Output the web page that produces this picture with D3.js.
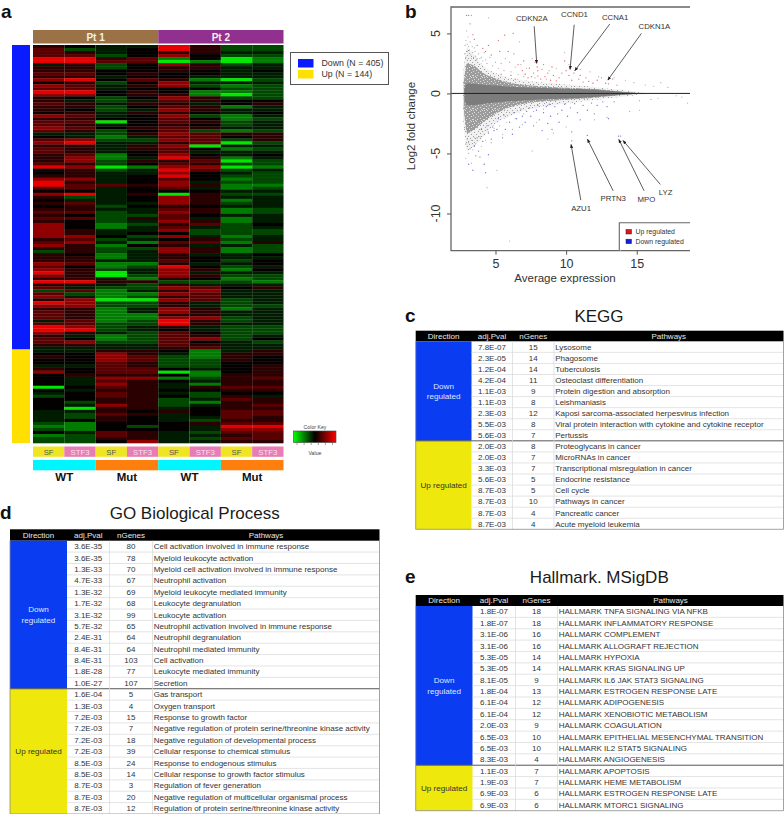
<!DOCTYPE html>
<html>
<head>
<meta charset="utf-8">
<title>Expression panels</title>
<script src="https://cdn.jsdelivr.net/npm/d3@7"></script>
<style>
html,body{margin:0;padding:0;background:#fff;}
svg{display:block;font-family:"Liberation Sans",Arial,sans-serif;}
</style>
</head>
<body>
<svg id="fig" width="784" height="814"></svg>
<script>
// ---- Panel a: heatmap values, one row per gene band, eight sample columns ----
const heatRows = [
[1,0,-1,-1,4,1,-2,-2],[2,-2,-1,0,4,1,-2,-2],[2,1,-1,0,1,1,-1,-1],[2,2,-2,0,3,0,-2,-2],[4,4,1,2,-3,0,-4,-3],[4,4,2,2,-4,-3,-4,-3],
[-1,1,-2,0,3,1,-2,-1],[1,1,-2,0,1,1,-1,-1],[1,1,0,0,1,0,-1,0],[2,2,0,1,0,0,-1,-1],[1,1,-1,0,0,-1,-1,-1],[3,4,0,2,1,-3,-4,-2],
[0,1,-2,0,3,-1,-1,-1],[3,2,-1,1,3,-2,-3,-2],[2,2,-1,0,0,0,-2,-2],[4,4,0,1,0,-3,-3,-2],[3,3,0,1,1,-3,-4,-2],[1,0,-2,0,3,1,-2,-2],
[1,-1,-2,-1,2,1,0,0],[2,1,-1,1,1,-1,0,1],[1,1,-2,0,2,1,-3,-1],[1,0,-2,-1,3,1,-1,-1],[0,1,-1,1,1,0,-1,0],[3,2,-1,0,3,-2,-3,-1],
[1,1,0,0,2,0,-3,-2],[2,2,-4,0,2,1,-2,-1],[2,1,-1,0,1,0,-2,-1],[3,2,0,1,2,1,-1,-1],[2,1,-2,0,2,-2,-3,-2],[-1,-1,-2,1,3,2,1,1],
[0,-1,-3,-1,2,2,0,1],[2,3,-2,-2,3,2,-2,1],[3,4,-1,-1,1,2,-4,-2],
[1,1,-1,1,3,-4,-1,-1],[2,1,-1,1,2,0,-3,-2],[2,1,-1,0,2,-1,-1,-1],[1,2,-3,0,3,0,-1,0],[1,3,-3,-1,4,1,-3,-1],[1,3,-2,1,1,2,-4,-2],
[2,1,-2,0,2,1,-2,-2],[4,3,-4,-3,3,3,-4,-3],[0,1,-2,-1,4,2,-2,-1],[0,1,-1,-1,3,0,-1,-2],[1,1,-1,0,4,0,-2,-2],[3,3,-1,0,2,0,-3,-2],
[4,1,-1,0,3,-1,-2,-2],[4,2,2,1,3,1,-3,-3],[2,2,-1,0,2,-1,-3,-2],[0,0,-1,0,0,0,-1,-1],[3,4,-1,1,-4,1,-2,-2],[1,-2,-1,0,3,1,-1,-1],
[0,-1,-1,0,3,1,-3,-1],[1,2,-1,-1,3,1,-2,-1],[0,1,-2,0,1,0,-1,-1],[1,1,-1,-1,2,1,-3,-2],[2,2,-2,-1,3,1,-3,-2],[1,0,-2,-2,2,0,-1,-1],
[2,2,-2,1,2,-1,-3,-1],[1,0,-2,-1,3,1,-3,-1],[3,0,-3,-2,1,2,-2,0],[3,0,-3,-1,2,-1,-2,-1],[3,1,-1,-1,3,-2,-2,-2],[3,1,-1,0,0,-2,-2,-2],
[3,3,0,-2,3,-1,-3,-1],[1,2,-2,-1,0,1,-2,-1],[2,3,-1,-3,2,2,-3,1],
[3,1,-3,0,1,-1,-1,-2],[1,1,-2,-2,3,1,-3,-2],[-2,1,-2,-1,3,1,-3,-2],[1,0,-3,-1,1,-1,-1,0],[1,1,-3,-1,1,0,-1,-1],[1,1,-1,-1,2,0,-2,0],
[3,2,-3,-3,1,-1,-1,0],[2,0,-3,-2,4,0,-2,-1],[3,1,-2,-1,3,1,-3,0],[4,1,-4,-1,3,-1,-1,-1],[3,1,-4,-2,3,1,-2,-2],[1,1,-1,-3,1,0,-3,-2],
[4,4,1,1,-2,-2,-2,-3],[1,1,-1,-2,1,-1,-1,-1],[2,-1,-2,-2,3,2,0,1],[-2,2,-3,-1,1,3,-1,-1],[2,-2,-3,-3,3,2,-1,-1],[3,-1,-3,-2,1,2,-1,-1],
[1,3,-4,-4,3,2,-2,-1],[4,3,-2,-2,1,-1,-2,-1],[3,3,-2,-2,1,-1,-2,-2],[1,1,-3,-1,3,1,-3,-1],[2,1,-3,-1,3,1,-1,-1],[2,1,-3,-3,1,1,-1,-1],
[2,1,-3,-3,3,3,-2,-1],[-1,2,-3,-2,4,1,-2,-1],[2,2,-2,-2,4,1,-1,-1],[4,3,-2,-1,1,-1,-2,-2],[4,4,-2,-1,0,-1,-2,-2],[3,1,-1,-2,2,0,-2,-2],
[1,-1,-3,-2,2,1,-2,-1],[2,0,-3,-2,2,3,-2,0],[2,3,-2,-2,2,0,-1,-2],
[1,1,-1,-1,2,1,-1,-1],[-1,-1,-1,-1,1,2,-1,-1],[-1,-1,1,1,0,-3,-1,1],[0,0,3,1,-1,-3,1,1],[1,0,3,2,-2,-3,1,0],[0,0,3,2,-2,-2,1,0],
[0,0,2,1,-2,-2,0,0],[-1,-1,2,1,-2,-2,0,1],[1,0,2,2,0,-1,0,1],[3,0,2,2,-4,-3,0,1],[0,1,1,1,0,-3,1,1],[0,-1,3,3,-3,-2,1,2],
[0,-1,2,1,0,-1,1,1],[0,-1,3,1,-1,-3,1,1],[-4,0,2,1,-1,1,2,2],[0,-1,1,1,0,0,1,1],[-1,0,2,1,-1,-2,0,0],[-2,0,2,1,0,-2,1,-1],
[0,0,1,1,-2,-1,2,1],[0,-2,1,1,-2,-3,1,1],[0,-1,3,1,-2,-1,1,2],[0,-4,1,1,-1,0,1,1],[-1,-1,1,0,1,0,2,2],[-1,-2,2,1,-1,0,2,2],
[-1,-2,1,0,-1,-1,2,1],[-1,0,1,0,-1,-2,1,1],[-2,-3,0,0,0,1,2,2],[-3,-3,0,-2,0,-1,4,4],[-2,-3,0,0,0,-1,3,3],[0,-1,2,1,-1,-2,2,2],
[-3,-2,2,1,-1,-1,1,2],[-2,-2,1,1,-1,-2,2,2],[-2,-2,0,3,-1,-1,1,1]
];
const heatLevels = [-4, -3, -2, -1, 0, 1, 2, 3, 4];
const heatColours = ["#00e800", "#007c00", "#004800", "#001c00", "#040000", "#2a0000", "#5a0000", "#900000", "#e80000"];
const patients = ["Pt 1", "Pt 2"];
const mediaLabels = ["SF", "STF3", "SF", "STF3", "SF", "STF3", "SF", "STF3"];
const genotypes = ["WT", "Mut", "WT", "Mut"];
const directionCounts = [["Down", 405], ["Up", 144]];
const directionBands = [101, 31];

// ---- Panel b: MA plot envelopes and individually read points ----
const outerX  = [2.7, 3, 3.5, 4, 4.5, 5, 6, 7, 8, 9, 10, 11, 12, 13, 14, 15, 16];
const outerUp = [1.5, 3.8, 3.2, 2.5, 2, 1.7, 1.3, 1.1, .95, .82, .75, .66, .54, .4, .3, .14, 0];
const outerDn = [-2, -4.8, -4.4, -3.8, -3.1, -2.5, -1.9, -1.45, -1.2, -1, -.85, -.7, -.55, -.4, -.28, -.15, 0];
const innerX  = [2.75, 3, 3.5, 4, 5, 6, 7, 8, 9, 10, 11, 12, 13, 14, 15];
const innerUp = [.8, 2.5, 2.3, 1.8, 1.25, .9, .72, .62, .54, .48, .43, .36, .26, .14, .04];
const innerDn = [-1.2, -3.3, -3, -2.5, -1.7, -1.15, -.85, -.7, -.6, -.52, -.45, -.35, -.24, -.14, -.04];
const coreX   = [2.8, 3, 4, 5, 6, 7, 8, 9, 10, 11, 12, 13, 14, 15];
const coreUp  = [.4, .85, .74, .66, .58, .52, .48, .44, .4, .36, .31, .22, .12, .03];
const coreDn  = [-.5, -1, -.88, -.76, -.66, -.58, -.52, -.47, -.42, -.38, -.3, -.2, -.11, -.03];
const sparseTile = [[1,1],[4,0],[6,2],[10,1],[12,3],[3,4],[8,4],[0,6],[5,6],[10,6],[2,8],[7,8],[12,8],[4,10],[9,10],[0,11],[6,12],[11,12]];
const denseTile = [[0,0],[3,0],[7,1],[9,0],[1,2],[5,2],[10,3],[3,4],[7,4],[0,5],[5,6],[9,6],[2,7],[7,8],[0,9],[4,9],[10,9],[2,10],[8,10]];

const greyPoints = [
[2.9,3],[3,3.5],[2.85,4],[3.2,4.3],[3.4,3.4],[2.95,5.2],[3.05,4.7],[3.6,3.1],[3.8,3.3],[3.3,2.9],[3.5,3.8],[2.8,3.3],[3.1,3.9],[3.7,2.9],
[4,3],[4.3,2.8],[4.6,3],[4.2,3.4],[5,2.6],[5.4,2.5],[5.7,2.9],[6,2.6],[6.4,2.2],[6.8,2.4],[7.2,2.1],[7.6,2.9],[8.3,2],[8.8,1.9],[9.3,2.1],
[9.9,3.4],[10.2,2.4],[11,2],[11.7,1.8],[12.3,1.4],[13.4,1.3],[14.2,1.1],[14.8,.9],[15.6,.7],[16.2,.6],[16.7,.9],[17.2,.5],[17.8,-.2],[18.2,-.3],
[18.6,-.8],[16,-.5],[15.2,-.6],[16.5,-.4],[4.5,6.3],[6.7,4.3],[3.3,6.5],[2.8,-3],[2.9,-4.2],[3,-3.8],[3.1,-5],[2.9,-5.4],[3.3,-5.8],[3.4,-4.7],
[3.6,-4.2],[4,-4.4],[4.3,-3.9],[4.7,-4.1],[5.1,-6.4],[4.4,-7.85],[6,-12.3],[7.6,-4.8],[8.7,-3.8],[9.1,-3.3],[10,-2.8],[12,-2.2],[12.9,-2],
[14.5,-1.5],[15.2,-1.4],[5.5,-3.4],[6.2,-3],[6.9,-2.6],[7.9,-2.4],
[2.9,4.4],[3,4.1],[3.15,3.6],[3.25,3.2],[3.35,3.9],[3.45,3],[3.55,3.5],[3.65,2.8],[3.9,2.9],[4.1,2.7],[4.4,2.5],[4.8,2.3],[5.2,2.1],[5.6,1.9],[6.1,1.8],
[6.6,1.6],[7,1.4],[7.8,1.3],[8.6,1.2],[3,-4.4],[3.1,-4.1],[3.2,-4.6],[3.3,-3.9],[3.5,-3.7],[3.7,-3.9],[3.9,-3.6],[4.2,-3.4],[4.5,-3.2],[4.9,-2.9],[5.3,-2.7],
[5.8,-2.4],[6.4,-2.1],[7,-1.7],[7.7,-1.5],[8.4,-1.3]
];
const upPoints = [
[2.95,6.5],[3.1,6.5],[3.2,5.8],[3.5,4.5],[3.7,4],[3.4,4.9],[4.1,3.75],[4.5,4],[4.3,3.5],[5.2,4.4],[5.3,3.5],[5.65,4.85],[5.9,3.5],[6.25,5],[6.3,3.3],
[4.7,3.2],[6.6,2.4],[6.9,1.9],[7.1,1.6],[7.3,1.3],[7.4,2.1],[7.55,1.4],[7.7,1.7],[7.8,2.6],[7.95,2.2],[8,1.45],[8,1.9],[8.2,1.2],[8.5,1.4],
[8.7,1.7],[8.9,1.1],[9.1,1.5],[9.3,1.05],[9.5,1.3],[9.7,1.7],[10,1.9],[10.2,1.5],[10.4,1.1],[10.55,1.7],[10.75,2.1],[10.9,1.2],[11,1.5],[11.2,.95],
[11.4,1.3],[11.6,1],[11.9,.85],[12.2,1.1],[12.5,1.3],[12.8,.85],[13,.8],[13.3,1.2],[13.6,.7],[6.1,1.5],[6.4,1.2],[5.4,1.6],[7,2.7],[8.4,2.4],[9,2.2],[9.9,2.7]
];
const downPoints = [
[10.4,-3.95],[11.5,-3.5],[13.7,-3.55],[13.85,-3.55],[3.6,-5.2],[3.8,-4.8],[3.1,-5.9],[3.4,-6.4],[3.9,-5.3],[4.2,-5.9],[4.3,-6.6],[4.5,-5.1],[3.7,-3.7],
[4.1,-4],[4.5,-3.3],[4.4,-2.7],[4.8,-2.8],[4.9,-3.1],[5.1,-3],[5.5,-3.7],[5.7,-3],[6,-2.4],[6.2,-3.4],[6.5,-2.1],[6.7,-2.8],[6.9,-1.9],[7.1,-2.4],
[7.2,-1.5],[7.5,-1.9],[7.7,-2.7],[7.9,-1.4],[8.1,-2.2],[8.3,-3.1],[8.4,-1.6],[8.6,-1.1],[8.7,-2.5],[8.9,-1.9],[9.2,-1.1],[9.4,-1.7],[9.5,-2.4],
[9.7,-1.4],[9.9,-.9],[10.1,-1.9],[10.3,-1.2],[10.6,-.85],[10.8,-1.6],[11,-2.2],[11.2,-1],[11.5,-1.4],[11.8,-.8],[12,-1.7],[12.2,-1],[12.6,-.7],
[12.9,-1.1],[13,-2.1],[13.4,-.7],[5.2,-2.1],[5.6,-1.8],[6.3,-1.6],[6.8,-1.3],[7.4,-1.2],[8,-1],[8.8,-.9],[4.7,-3.8],[4,-3],[3.5,-4.4],[9,-3],[10.4,-3.2]
];
const geneNotes = [
  {gene:"CDKN2A", tx:7.57,  ty:6.25,  x1:7.74,  y1:5.6,   x2:7.92,  y2:2.5},
  {gene:"CCND1",  tx:10.59, ty:6.56,  x1:10.57, y1:5.72,  x2:10.28, y2:2},
  {gene:"CCNA1",  tx:13.47, ty:6.31,  x1:13.09, y1:5.78,  x2:10.61, y2:1.89},
  {gene:"CDKN1A", tx:16.25, ty:5.58,  x1:15.33, y1:5,     x2:12.95, y2:1.11},
  {gene:"AZU1",   tx:11.06, ty:-9.56, x1:11.04, y1:-8.89, x2:10.35, y2:-4.25},
  {gene:"PRTN3",  tx:13.33, ty:-8.75, x1:13.33, y1:-8.11, x2:11.51, y2:-3.81},
  {gene:"MPO",    tx:15.68, ty:-8.78, x1:15.52, y1:-8.11, x2:13.73, y2:-3.83},
  {gene:"LYZ",    tx:17.05, ty:-8.22, x1:16.67, y1:-7.58, x2:14.03, y2:-3.92}
];
const xTicksMA = [5, 10, 15];
const yTicksMA = [5, 0, -5, -10];

// ---- Panels c, d, e: enrichment tables ----
const tableColumns = ["Direction", "adj.Pval", "nGenes", "Pathways"];
const keggRows = [
["7.8E-07",15,"Lysosome"],["2.3E-05",14,"Phagosome"],["1.2E-04",14,"Tuberculosis"],["4.2E-04",11,"Osteoclast differentiation"],
["1.1E-03",9,"Protein digestion and absorption"],["1.1E-03",8,"Leishmaniasis"],["2.3E-03",12,"Kaposi sarcoma-associated herpesvirus infection"],
["5.5E-03",8,"Viral protein interaction with cytokine and cytokine receptor"],["5.6E-03",7,"Pertussis"],
["2.0E-03",8,"Proteoglycans in cancer"],["2.0E-03",7,"MicroRNAs in cancer"],["3.3E-03",7,"Transcriptional misregulation in cancer"],
["5.6E-03",5,"Endocrine resistance"],["8.7E-03",5,"Cell cycle"],["8.7E-03",10,"Pathways in cancer"],["8.7E-03",4,"Pancreatic cancer"],["8.7E-03",4,"Acute myeloid leukemia"]
];
const goRows = [
["3.6E-35",80,"Cell activation involved in immune response"],["3.6E-35",78,"Myeloid leukocyte activation"],
["1.3E-33",70,"Myeloid cell activation involved in immune response"],["4.7E-33",67,"Neutrophil activation"],
["1.3E-32",69,"Myeloid leukocyte mediated immunity"],["1.7E-32",68,"Leukocyte degranulation"],["3.1E-32",99,"Leukocyte activation"],
["5.7E-32",65,"Neutrophil activation involved in immune response"],["2.4E-31",64,"Neutrophil degranulation"],["8.4E-31",64,"Neutrophil mediated immunity"],
["8.4E-31",103,"Cell activation"],["1.8E-28",77,"Leukocyte mediated immunity"],["1.0E-27",107,"Secretion"],
["1.6E-04",5,"Gas transport"],["1.3E-03",4,"Oxygen transport"],["7.2E-03",15,"Response to growth factor"],
["7.2E-03",7,"Negative regulation of protein serine/threonine kinase activity"],["7.2E-03",18,"Negative regulation of developmental process"],
["7.2E-03",39,"Cellular response to chemical stimulus"],["8.5E-03",24,"Response to endogenous stimulus"],["8.5E-03",14,"Cellular response to growth factor stimulus"],
["8.7E-03",3,"Regulation of fever generation"],["8.7E-03",20,"Negative regulation of multicellular organismal process"],["8.7E-03",12,"Regulation of protein serine/threonine kinase activity"]
];
const hallmarkRows = [
["1.8E-07",18,"HALLMARK TNFA SIGNALING VIA NFKB"],["1.8E-07",18,"HALLMARK INFLAMMATORY RESPONSE"],["3.1E-06",16,"HALLMARK COMPLEMENT"],
["3.1E-06",16,"HALLMARK ALLOGRAFT REJECTION"],["5.3E-05",14,"HALLMARK HYPOXIA"],["5.3E-05",14,"HALLMARK KRAS SIGNALING UP"],
["8.1E-05",9,"HALLMARK IL6 JAK STAT3 SIGNALING"],["1.8E-04",13,"HALLMARK ESTROGEN RESPONSE LATE"],["6.1E-04",12,"HALLMARK ADIPOGENESIS"],
["6.1E-04",12,"HALLMARK XENOBIOTIC METABOLISM"],["2.0E-03",9,"HALLMARK COAGULATION"],["6.5E-03",10,"HALLMARK EPITHELIAL MESENCHYMAL TRANSITION"],
["6.5E-03",10,"HALLMARK IL2 STAT5 SIGNALING"],["8.3E-03",4,"HALLMARK ANGIOGENESIS"],
["1.1E-03",7,"HALLMARK APOPTOSIS"],["1.9E-03",7,"HALLMARK HEME METABOLISM"],["6.9E-03",6,"HALLMARK ESTROGEN RESPONSE LATE"],["6.9E-03",6,"HALLMARK MTORC1 SIGNALING"]
];

const svg = d3.select("#fig");
const defs = svg.append("defs");
const panelLetter = (t, x, y) => svg.append("text").attr("x", x).attr("y", y).attr("font-size", 19).attr("font-weight", 700).attr("fill", "#111").text(t);

// ---------- a: heatmap ----------
(function heatmap() {
  const L = 33, R = 283.5, T = 45, B = 443;
  const colBand = d3.scaleBand().domain(d3.range(8)).range([L, R]);
  const rowBand = d3.scaleBand().domain(d3.range(heatRows.length)).range([T, B]);
  const heatColor = d3.scaleLinear().domain(heatLevels).range(heatColours);
  const g = svg.append("g");

  g.selectAll("g.hrow").data(heatRows).join("g").attr("class", "hrow")
    .selectAll("rect").data((r, i) => r.map((v, j) => ({v, i, j}))).join("rect")
    .attr("x", d => colBand(d.j)).attr("y", d => rowBand(d.i))
    .attr("width", colBand.bandwidth()).attr("height", rowBand.bandwidth() + .3)
    .attr("fill", d => heatColor(d.v));

  // patient strip
  patients.forEach((p, i) => {
    g.append("rect").attr("x", colBand(i * 4)).attr("y", 30).attr("width", colBand.bandwidth() * 4).attr("height", 13.5)
      .attr("fill", i ? "#92308f" : "#9b7245");
    g.append("text").attr("x", colBand(i * 4) + colBand.bandwidth() * 2).attr("y", 40.5).attr("text-anchor", "middle")
      .attr("font-size", 10).attr("font-weight", 700).attr("fill", "#f4f0ea").text(p);
  });

  // direction strip, split where the up-regulated bands begin
  const splitAt = rowBand(directionBands[0]);
  g.append("rect").attr("x", 12).attr("width", 18).attr("y", T).attr("height", splitAt - T).attr("fill", "#0a1cff");
  g.append("rect").attr("x", 12).attr("width", 18).attr("y", splitAt).attr("height", B - splitAt).attr("fill", "#ffe000");

  // media strip
  mediaLabels.forEach((m, j) => {
    const x = colBand(j), w = colBand.bandwidth();
    g.append("rect").attr("x", x).attr("y", 446.5).attr("width", w).attr("height", 10.3).attr("fill", m === "SF" ? "#f0e522" : "#e97bb5");
    g.append("text").attr("x", x + w / 2).attr("y", 454.5).attr("text-anchor", "middle").attr("font-size", 7.8)
      .attr("fill", m === "SF" ? "#555" : "#f7e3ee").text(m);
  });

  // genotype strip
  genotypes.forEach((m, j) => {
    const x = colBand(j * 2), w = colBand.bandwidth() * 2;
    g.append("rect").attr("x", x).attr("y", 460).attr("width", w).attr("height", 10.3).attr("fill", m === "WT" ? "#00f6ff" : "#ff7f0e");
    g.append("text").attr("x", x + w / 2).attr("y", 481).attr("text-anchor", "middle").attr("font-size", 11.5).attr("font-weight", 700).attr("fill", "#111").text(m);
  });

  // direction legend
  g.append("rect").attr("x", 290.5).attr("y", 52.5).attr("width", 98).attr("height", 32).attr("fill", "#fff").attr("stroke", "#555").attr("stroke-width", 1);
  directionCounts.forEach((d, i) => {
    g.append("rect").attr("x", 298).attr("y", 59 + i * 11).attr("width", 15.5).attr("height", 8.5).attr("fill", i ? "#ffe000" : "#0a1cff");
    g.append("text").attr("x", 321.5).attr("y", 66.3 + i * 11).attr("font-size", 8.8).attr("fill", "#333").text(`${d[0]} (N = ${d[1]})`);
  });

  // colour key
  const kx = d3.scaleLinear().domain([-3, 3]).range([293.5, 336]);
  const grad = defs.append("linearGradient").attr("id", "keyGrad");
  [-3, 0, 3].forEach(v => grad.append("stop").attr("offset", (v + 3) / 6).attr("stop-color", d3.scaleLinear().domain([-3, 0, 3]).range(["#00ff00", "#000", "#ff0000"])(v)));
  g.append("rect").attr("x", kx(-3)).attr("y", 431).attr("width", kx(3) - kx(-3)).attr("height", 11.5).attr("fill", "url(#keyGrad)").attr("stroke", "#444").attr("stroke-width", .6);
  g.selectAll("line.k").data(d3.range(-2.5, 3, 1)).join("line").attr("class", "k")
    .attr("x1", d => kx(d)).attr("x2", d => kx(d)).attr("y1", 442.5).attr("y2", 445).attr("stroke", "#444").attr("stroke-width", .5);
  g.append("text").attr("x", 315).attr("y", 428.5).attr("text-anchor", "middle").attr("font-size", 5.2).attr("fill", "#444").text("Color Key");
  g.append("text").attr("x", 315).attr("y", 455).attr("text-anchor", "middle").attr("font-size", 5.2).attr("fill", "#444").text("Value");
})();

// ---------- b: MA plot ----------
(function maPlot() {
  const pL = 451, pR = 690, pT = 7, pB = 250.7;
  const x = d3.scaleLinear().domain([1.85, 18.77]).range([pL, pR]);
  const y = d3.scaleLinear().domain([7.2, -13.1]).range([pT, pB]);
  const g = svg.append("g");

  const tile = (id, size, dots, back, dot) => {
    const p = defs.append("pattern").attr("id", id).attr("patternUnits", "userSpaceOnUse").attr("width", size).attr("height", size);
    p.append("rect").attr("width", size).attr("height", size).attr("fill", back);
    dots.forEach(d => p.append("rect").attr("x", d[0]).attr("y", d[1]).attr("width", 1).attr("height", 1).attr("fill", dot));
  };
  tile("sparseDots", 13, sparseTile, "#f1f1f1", "#a0a0a0");
  tile("denseDots", 11, denseTile, "#9c9c9c", "#dcdcdc");

  const band = (xs, ups, dns, fill) => g.append("path")
    .datum(xs.map((v, i) => [v, ups[i], dns[i]]))
    .attr("fill", fill)
    .attr("d", d3.area().x(d => x(d[0])).y0(d => y(d[2])).y1(d => y(d[1])).curve(d3.curveMonotoneX));
  band(outerX, outerUp, outerDn, "url(#sparseDots)");
  band(innerX, innerUp, innerDn, "url(#denseDots)");
  band(coreX, coreUp, coreDn, "#7c7c7c");

  const dots = (arr, col, r, op) => g.append("g").selectAll("circle").data(arr).join("circle")
    .attr("cx", d => x(d[0])).attr("cy", d => y(d[1])).attr("r", r).attr("fill", col).attr("opacity", op);
  dots(greyPoints, "#9a9a9a", .6, .85);
  dots(upPoints, "#ea3a40", .65, .8);
  dots(downPoints, "#4a4fd8", .65, .8);

  // zero line
  g.append("line").attr("x1", pL).attr("x2", pR).attr("y1", y(0)).attr("y2", y(0)).attr("stroke", "#222").attr("stroke-width", 1);

  // frame and axes
  g.append("path").attr("fill", "none").attr("stroke", "#666").attr("stroke-width", 1.3)
    .attr("d", `M${pR},${pT}H${pL}V${pB}H${pR}`);
  const xg = g.append("g").attr("transform", `translate(0,${pB})`)
    .call(d3.axisBottom(x).tickValues(xTicksMA).tickSize(4).tickPadding(4));
  xg.select(".domain").remove();
  xg.selectAll("text").attr("font-size", 12.5).attr("fill", "#333").attr("font-family", "Liberation Sans");
  xg.selectAll("line").attr("stroke", "#555");
  const yg = g.append("g").attr("transform", `translate(${pL},0)`)
    .call(d3.axisLeft(y).tickValues(yTicksMA).tickSize(4).tickFormat(() => ""));
  yg.select(".domain").remove();
  yg.selectAll("line").attr("stroke", "#555");
  yTicksMA.forEach(t => g.append("text").attr("transform", `translate(440,${y(t)}) rotate(-90)`)
    .attr("text-anchor", "middle").attr("font-size", 12.5).attr("fill", "#333").text(t));

  g.append("text").attr("x", 565).attr("y", 282).attr("text-anchor", "middle").attr("font-size", 11.5).attr("fill", "#333").text("Average expression");
  g.append("text").attr("transform", "translate(415,126) rotate(-90)").attr("text-anchor", "middle").attr("font-size", 11.5).attr("fill", "#333").text("Log2 fold change");

  // gene callouts
  const mk = defs.append("marker").attr("id", "arrowHead").attr("viewBox", "0 0 10 10").attr("refX", 9).attr("refY", 5)
    .attr("markerWidth", 5).attr("markerHeight", 5).attr("orient", "auto");
  mk.append("path").attr("d", "M0,1L10,5L0,9Z").attr("fill", "#222");
  geneNotes.forEach(n => {
    g.append("line").attr("x1", x(n.x1)).attr("y1", y(n.y1)).attr("x2", x(n.x2)).attr("y2", y(n.y2))
      .attr("stroke", "#333").attr("stroke-width", .8).attr("marker-end", "url(#arrowHead)");
    g.append("text").attr("x", x(n.tx)).attr("y", y(n.ty)).attr("dy", "0.35em").attr("text-anchor", "middle")
      .attr("font-size", 7.8).attr("fill", "#333").text(n.gene);
  });

  // legend
  g.append("path").attr("fill", "#fff").attr("stroke", "#666").attr("stroke-width", 1.1).attr("d", `M${pR},222.7H619.3V${pB}`);
  [["Up regulated", "#e0141c"], ["Down regulated", "#1420e0"]].forEach((d, i) => {
    g.append("rect").attr("x", 626).attr("y", 229.5 + i * 9.7).attr("width", 5.5).attr("height", 4.5).attr("fill", d[1]).attr("stroke", "#222").attr("stroke-width", .5);
    g.append("text").attr("x", 635.5).attr("y", 234.2 + i * 9.7).attr("font-size", 6.9).attr("fill", "#333").text(d[0]);
  });
})();

// ---------- c, d, e: tables ----------
function enrichmentTable(o) {
  const g = svg.append("g");
  const [x0, x1, x2, x3, x4] = o.cols;
  const w = o.cols;
  const rows = d3.scaleBand().domain(d3.range(o.rows.length)).range([o.top, o.bottom]);
  const rh = rows.bandwidth();

  g.append("text").attr("x", o.titleX).attr("y", o.titleY).attr("text-anchor", "middle").attr("font-size", 17).attr("fill", "#1a1a1a").text(o.title);

  g.append("rect").attr("x", x0).attr("y", o.headTop).attr("width", x4 - x0).attr("height", o.top - o.headTop).attr("fill", "#000");
  tableColumns.forEach((c, i) => g.append("text").attr("x", (w[i] + w[i + 1]) / 2).attr("y", o.headTop + (o.top - o.headTop) / 2 + 2.8)
    .attr("text-anchor", "middle").attr("font-size", 8).attr("fill", "#e8e8e8").text(c));

  const splitY = rows(o.downCount);
  g.append("rect").attr("x", x0).attr("y", o.top).attr("width", x1 - x0).attr("height", splitY - o.top).attr("fill", "#0a3df2");
  g.append("rect").attr("x", x0).attr("y", splitY).attr("width", x1 - x0).attr("height", o.bottom - splitY).attr("fill", "#efe80c");

  const downMid = (o.top + splitY) / 2;
  ["Down", "regulated"].forEach((t, i) => g.append("text").attr("x", (x0 + x1) / 2).attr("y", downMid + (i ? 8 : -2.4))
    .attr("text-anchor", "middle").attr("font-size", 8.1).attr("fill", "#dfe6ff").text(t));
  g.append("text").attr("x", (x0 + x1) / 2).attr("y", (splitY + o.bottom) / 2 + 2.8)
    .attr("text-anchor", "middle").attr("font-size", 8.1).attr("fill", "#333").text("Up regulated");

  // grid
  g.selectAll("line.rowline").data(d3.range(1, o.rows.length)).join("line").attr("class", "rowline")
    .attr("x1", x1).attr("x2", x4).attr("y1", d => rows(d)).attr("y2", d => rows(d))
    .attr("stroke", d => d === o.downCount ? "#555" : "#d9d9d9").attr("stroke-width", d => d === o.downCount ? 1 : .7);
  g.append("line").attr("x1", x0).attr("x2", x1).attr("y1", splitY).attr("y2", splitY).attr("stroke", "#555").attr("stroke-width", 1);
  [x2, x3].forEach(v => g.append("line").attr("x1", v).attr("x2", v).attr("y1", o.top).attr("y2", o.bottom).attr("stroke", "#d9d9d9").attr("stroke-width", .7));
  g.append("path").attr("fill", "none").attr("stroke", "#8a8a8a").attr("stroke-width", .8).attr("d", `M${x0},${o.top}V${o.bottom}H${x4}V${o.top}`);

  // cells
  o.rows.forEach((r, i) => {
    const yy = rows(i) + rh / 2 + 2.8;
    const cell = (xx, t, anchor) => g.append("text").attr("x", xx).attr("y", yy).attr("text-anchor", anchor).attr("font-size", 8).attr("fill", "#333").text(t);
    cell((x1 + x2) / 2, r[0], "middle");
    cell((x2 + x3) / 2, r[1], "middle");
    cell(x3 + 1.2, r[2], "start");
  });
}

enrichmentTable({title:"KEGG", titleX:599, titleY:322, cols:[415.7,471.5,512.5,554,783.5], headTop:330.7, top:341.3, bottom:529.3, rows:keggRows, downCount:9});
enrichmentTable({title:"GO Biological Process", titleX:194.7, titleY:519, cols:[10,67,109.5,152.5,379.5], headTop:529.3, top:540.7, bottom:814, rows:goRows, downCount:13});
enrichmentTable({title:"Hallmark. MSigDB", titleX:599.3, titleY:583, cols:[415.7,472.5,515.5,557.5,783.5], headTop:595, top:606, bottom:810.7, rows:hallmarkRows, downCount:14});

panelLetter("a", 1, 18);
panelLetter("b", 405, 18);
panelLetter("c", 405, 322);
panelLetter("d", 0, 519);
panelLetter("e", 405, 583);
</script>
</body>
</html>
